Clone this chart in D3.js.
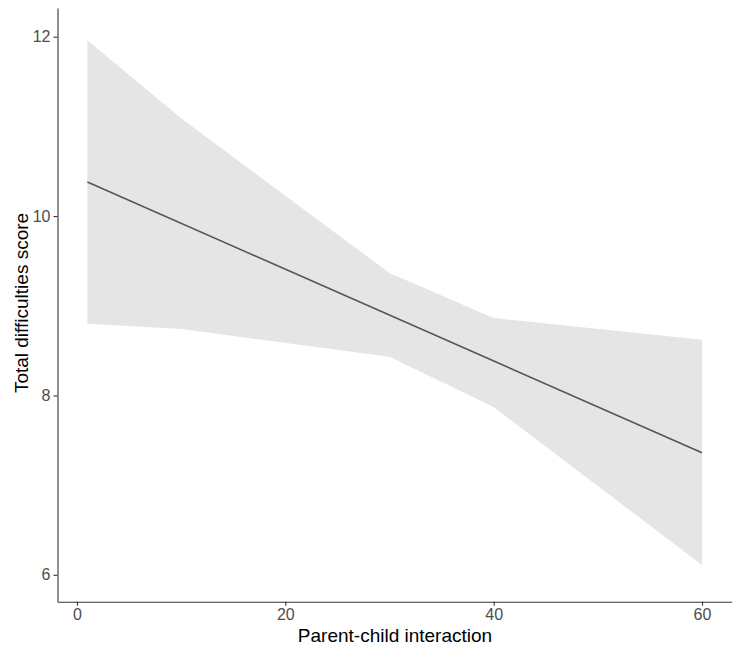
<!DOCTYPE html>
<html><head><meta charset="utf-8">
<script src="https://cdn.jsdelivr.net/npm/d3@7"></script>
<style>body{margin:0;background:#fff}</style>
</head><body>
<svg id="chart" width="740" height="658"></svg>
<script>
const xs = [1, 10, 30, 40, 60];
const upper = [11.96, 11.09, 9.365, 8.864, 8.62];
const lower = [8.80, 8.74, 8.43, 7.87, 6.11];
const fitX = [1, 60];
const fitY = [10.38, 7.36];
const xTicks = [0, 20, 40, 60];
const yTicks = [6, 8, 10, 12];

const svg = d3.select("#chart");
const x = d3.scaleLinear().domain([-1.87, 62.85]).range([57.5, 731.7]);
const y = d3.scaleLinear().domain([5.70, 12.32]).range([601.7, 8]);

const band = xs.map((v, i) => ({x: v, lo: lower[i], hi: upper[i]}));
svg.append("path").datum(band)
  .attr("fill", "#e5e5e5")
  .attr("d", d3.area().x(d => x(d.x)).y0(d => y(d.lo)).y1(d => y(d.hi)));

svg.append("path").datum(fitX.map((v, i) => [v, fitY[i]]))
  .attr("fill", "none").attr("stroke", "#555").attr("stroke-width", 1.6)
  .attr("d", d3.line().x(d => x(d[0])).y(d => y(d[1])));

const font = "Liberation Sans, Arial, sans-serif";
const gx = svg.append("g").attr("transform", "translate(0,601.7)")
  .call(d3.axisBottom(x).tickValues(xTicks).tickFormat(d3.format("d")).tickSize(4).tickPadding(3).tickSizeOuter(0));
const gy = svg.append("g").attr("transform", "translate(57.5,0)")
  .call(d3.axisLeft(y).tickValues(yTicks).tickFormat(d3.format("d")).tickSize(4).tickPadding(3).tickSizeOuter(0));
[gx, gy].forEach(g => {
  g.attr("font-size", null).attr("font-family", null);
  g.select(".domain").attr("stroke", "#333").attr("stroke-width", 1.1);
  g.selectAll(".tick line").attr("stroke", "#333").attr("stroke-width", 1.1);
  g.selectAll(".tick text").attr("fill", "#4d4d4d").style("font-family", font).style("font-size", "16px");
});

svg.append("text").attr("x", 395).attr("y", 642).attr("text-anchor", "middle")
  .style("font-family", font).style("font-size", "19px").attr("fill", "#000")
  .text("Parent-child interaction");
svg.append("text").attr("transform", "translate(28,303) rotate(-90)").attr("text-anchor", "middle")
  .style("font-family", font).style("font-size", "19px").attr("fill", "#000")
  .text("Total difficulties score");
</script>
</body></html>
